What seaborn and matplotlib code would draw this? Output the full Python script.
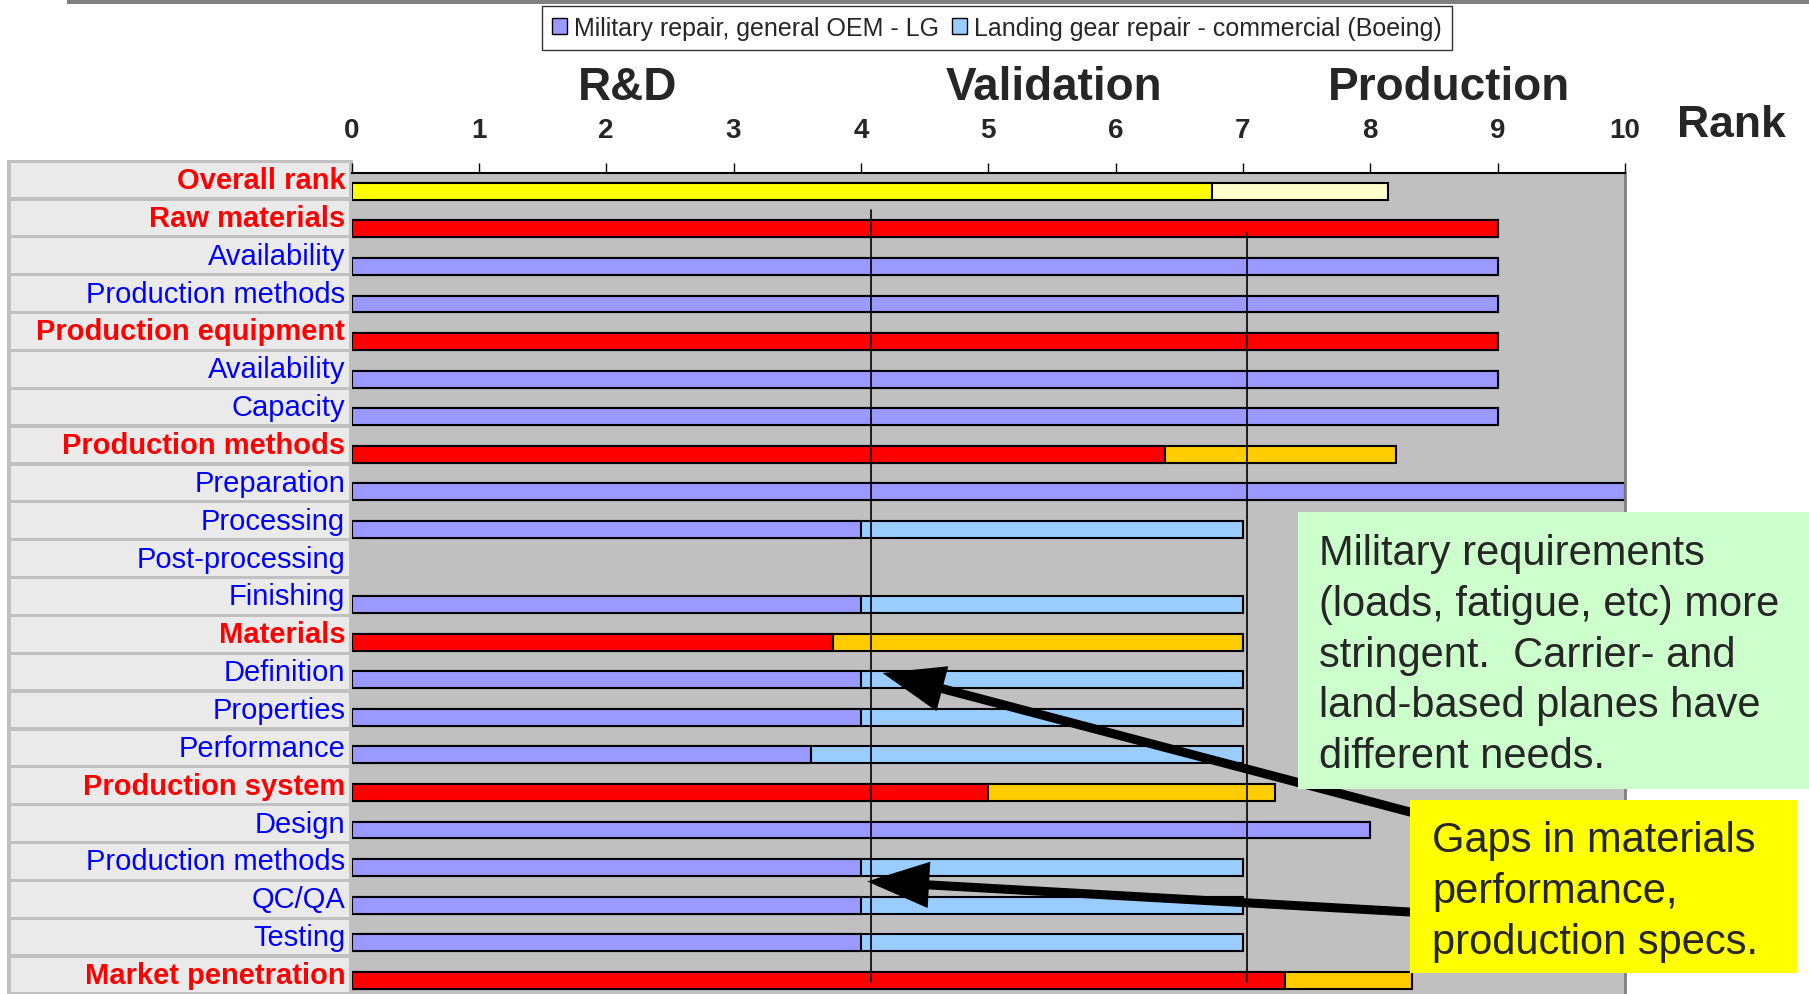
import numpy as np
import pandas as pd
import matplotlib.pyplot as plt
from matplotlib.patches import Rectangle, Patch
from matplotlib.transforms import blended_transform_factory
import seaborn as sns

# -------------------- DATOS --------------------
filas = ["Overall rank", "Raw materials", "Availability", "Production methods",
         "Production equipment", "Availability", "Capacity", "Production methods",
         "Preparation", "Processing", "Post-processing", "Finishing", "Materials",
         "Definition", "Properties", "Performance", "Production system", "Design",
         "Production methods", "QC/QA", "Testing", "Market penetration"]
tipo = ["overall", "cat", "item", "item", "cat", "item", "item", "cat", "item",
        "item", "item", "item", "cat", "item", "item", "item", "cat", "item",
        "item", "item", "item", "cat"]
# Rango militar (primer tramo) y comercial (hasta donde llega la barra)
militar = [6.76, 9, 9, 9, 9, 9, 9, 6.39, 10, 4, np.nan, 4, 3.78, 4, 4, 3.61,
           5, 8, 4, 4, 4, 7.33]
comercial = [8.14, 9, 9, 9, 9, 9, 9, 8.2, 10, 7, np.nan, 7, 7, 7, 7, 7,
             7.25, 8, 7, 7, 7, 8.33]
rank_ticks = list(range(0, 11))
fases = ["R&D", "Validation", "Production"]
series = ["Military repair, general OEM - LG", "Landing gear repair - commercial (Boeing)"]
nota_verde = ["Military requirements", "(loads, fatigue, etc) more",
              "stringent.  Carrier- and", "land-based planes have", "different needs."]
nota_amarilla = ["Gaps in materials", "performance,", "production specs."]

# Colores por tipo de fila: (militar, comercial)
colores = {"overall": ("#FFFF00", "#FFFFCC"),
           "cat": ("#FF0000", "#FFCC00"),
           "item": ("#9999FF", "#99CCFF")}

# -------------------- ESTILO --------------------
sns.set_theme(style="white")
plt.rcParams['font.family'] = ['Liberation Sans', 'DejaVu Sans']

W, H = 1809, 995
fig = plt.figure(figsize=(W / 100, H / 100), dpi=100)

# eje principal (la parte inferior queda cortada como en la imagen)
x0, x1 = 351.5, 1625
top, paso = 173.5, 37.57
n = len(filas)
ax = fig.add_axes([x0 / W, 1 - (top + n * paso) / H, (x1 - x0) / W, n * paso / H])
ax.set_facecolor("#C0C0C0")

df = pd.DataFrame({'fila': [f"{i:02d}" for i in range(n)],
                   'militar': militar, 'comercial': comercial, 'tipo': tipo})
orden = list(df['fila'])
pal_com = [colores[t][1] for t in tipo]
pal_mil = [colores[t][0] for t in tipo]
datos = df.dropna()

sns.barplot(data=datos, x='comercial', y='fila', hue='fila', order=orden, hue_order=orden,
            palette=pal_com, orient='h', width=0.45, edgecolor='black', linewidth=1.5,
            saturation=1, errorbar=None, legend=False, ax=ax)
sns.barplot(data=datos, x='militar', y='fila', hue='fila', order=orden, hue_order=orden,
            palette=pal_mil, orient='h', width=0.45, edgecolor='black', linewidth=1.5,
            saturation=1, errorbar=None, legend=False, ax=ax)

ax.set_xlim(0, 10)
ax.set_ylim(n - 0.5, -0.5)
ax.set_xlabel('')
ax.set_ylabel('')
ax.set_yticks([])
ax.xaxis.tick_top()
ax.set_xticks(rank_ticks, [str(t) for t in rank_ticks], fontweight='bold', fontsize=20)
ax.tick_params(axis='x', direction='out', length=7.5, width=1, color='black', pad=14)
for lado in ['left', 'bottom']:
    ax.spines[lado].set_visible(False)
ax.spines['top'].set_color('black')
ax.spines['top'].set_linewidth(1.5)
ax.spines['right'].set_color('#808080')
ax.spines['right'].set_linewidth(2)

# líneas de fase
ax.plot([4.08, 4.08], [0.49, 21.05], color='black', lw=1.2, zorder=5)
ax.plot([7.03, 7.03], [1.1, 21.05], color='black', lw=1.2, zorder=5)

# -------------------- TABLA DE ETIQUETAS --------------------
tr = blended_transform_factory(ax.transAxes, ax.transData)
ax.add_patch(Rectangle((-0.2705, -0.83), 0.2717, n + 1, transform=tr,
                       facecolor='#C0C0C0', edgecolor='none', clip_on=False, zorder=0))
for i, (nombre, t) in enumerate(zip(filas, tipo)):
    yc = -0.30 + i * 1.0077
    ax.add_patch(Rectangle((-0.2674, yc - 0.46), 0.2658, 0.92, transform=tr,
                           facecolor='#EAEAEA', edgecolor='none', clip_on=False, zorder=0.5))
    if t == "item":
        ax.text(-0.005, yc, nombre, transform=tr, ha='right', va='center',
                fontsize=21, color='#0000FF', clip_on=False)
    else:
        ax.text(-0.005, yc, nombre, transform=tr, ha='right', va='center',
                fontsize=21, color='#FF0000', fontweight='bold', clip_on=False)

# -------------------- TEXTOS SUPERIORES --------------------
for nombre, xc in zip(fases, [628, 1053.6, 1448.6]):
    fig.text(xc / W, 1 - 100 / H, nombre, ha='center', va='baseline',
             fontsize=33, fontweight='bold')
fig.text(1677 / W, 1 - 137 / H, "Rank", ha='left', va='baseline', fontsize=32, fontweight='bold')

fig.patches.append(Rectangle((67 / W, 1 - 4.5 / H), 1, 4.5 / H, transform=fig.transFigure,
                             facecolor='#808080', edgecolor='none'))

# leyenda
manejadores = [Patch(facecolor=colores["item"][0], edgecolor='black'),
               Patch(facecolor=colores["item"][1], edgecolor='black')]
leg = fig.legend(manejadores, series, loc='upper center', bbox_to_anchor=(997 / W, 1 - 7 / H),
                 ncol=2, fontsize=18, frameon=True, fancybox=False, edgecolor='black',
                 handlelength=0.6, handleheight=0.6, handletextpad=0.3, columnspacing=0.5,
                 borderpad=0.4, borderaxespad=0)
leg.get_frame().set_linewidth(1)

# -------------------- NOTAS --------------------
fig.patches.append(Rectangle((1298 / W, 1 - 790 / H), (W - 1298) / W, (790 - 513) / H,
                             transform=fig.transFigure, facecolor='#CCFFCC', edgecolor='none'))
for k, linea in enumerate(nota_verde):
    fig.text(1318.6 / W, 1 - (565 + k * 50.8) / H, linea, ha='left', va='baseline', fontsize=30)

fig.patches.append(Rectangle((1410 / W, 1 - 974 / H), (1797 - 1410) / W, (974 - 801) / H,
                             transform=fig.transFigure, facecolor='#FFFF00', edgecolor='none'))
for k, linea in enumerate(nota_amarilla):
    fig.text(1432 / W, 1 - (852.5 + k * 50.8) / H, linea, ha='left', va='baseline', fontsize=30)

# flechas
flecha = dict(arrowstyle='-|>,head_length=1.6,head_width=0.6', lw=6.5, color='black',
              shrinkA=0, shrinkB=0, mutation_scale=20, joinstyle='miter')
ax.annotate('', xy=(4.17, 12.82), xycoords='data', xytext=(1410 / W, 1 - 813 / H),
            textcoords='figure fraction', arrowprops=flecha, annotation_clip=False)
ax.annotate('', xy=(4.05, 18.37), xycoords='data', xytext=(1410 / W, 1 - 913 / H),
            textcoords='figure fraction', arrowprops=flecha, annotation_clip=False)

fig.savefig("out.png", dpi=100)
